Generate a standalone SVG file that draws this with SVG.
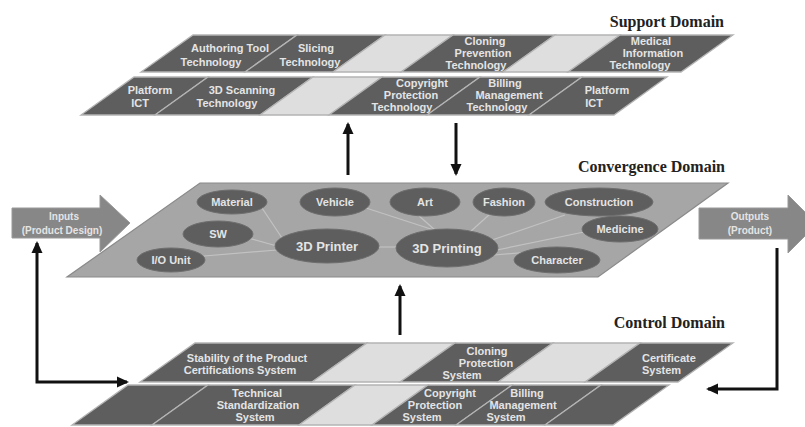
<svg xmlns="http://www.w3.org/2000/svg" width="805" height="427" viewBox="0 0 805 427">
<defs>
<style>
.dk{fill:#5e5e5e;stroke:#b4b4b4;stroke-width:1.3}
.lt{fill:#dedede;stroke:#b4b4b4;stroke-width:1.3}
.t{font-family:"Liberation Sans",Arial,sans-serif;font-size:11px;font-weight:bold;fill:#e4e4e4;text-anchor:middle}
.tb{font-size:13px}
.dom{font-family:"Liberation Serif","Times New Roman",serif;font-size:16px;font-weight:bold;fill:#222;text-anchor:end}
.el{fill:#5e5e5e;stroke:#6e6e6e;stroke-width:1}
.plane{fill:#a6a6a6;stroke:#8a8a8a;stroke-width:1.2}
.io{fill:#878787;stroke:#999;stroke-width:1}
.arr{fill:none;stroke:#111;stroke-width:3}
.lnk{fill:none;stroke:#c2c2c2;stroke-width:1.2}
</style>
<marker id="ah" viewBox="0 0 12 12" refX="10" refY="6" markerWidth="12" markerHeight="12" markerUnits="userSpaceOnUse" orient="auto-start-reverse">
<path d="M0,0.5 L12,6 L0,11.5 z" fill="#111"/>
</marker>
</defs>
<rect width="805" height="427" fill="#ffffff"/>

<!-- Domain labels -->
<text class="dom" x="724" y="27">Support Domain</text>
<text class="dom" x="725" y="172">Convergence Domain</text>
<text class="dom" x="725" y="328">Control Domain</text>

<!-- Support Domain -->
<g id="support-domain">
<g id="s-authoring"><polygon class="dk" points="193,35 297,35 245,72 141,72"/><text class="t" x="230" y="52">Authoring Tool</text><text class="t" x="211" y="66">Technology</text></g>
<g id="s-slicing"><polygon class="dk" points="297,35 385,35 333,72 245,72"/><text class="t" x="316" y="52">Slicing</text><text class="t" x="310" y="66">Technology</text></g>
<g id="s-blank1"><polygon class="lt" points="385,35 453,35 401,72 333,72"/></g>
<g id="s-cloning"><polygon class="dk" points="453,35 555,35 503,72 401,72"/><text class="t" x="485" y="45">Cloning</text><text class="t" x="483" y="57">Prevention</text><text class="t" x="476" y="69">Technology</text></g>
<g id="s-blank2"><polygon class="lt" points="555,35 620,35 568,72 503,72"/></g>
<g id="s-medical"><polygon class="dk" points="620,35 733,35 681,72 568,72"/><text class="t" x="651" y="45">Medical</text><text class="t" x="653" y="57">Information</text><text class="t" x="640" y="69">Technology</text></g>
<g id="s-platform1"><polygon class="dk" points="134,77 208,77 155,115 81,115"/><text class="t" x="150" y="94">Platform</text><text class="t" x="140" y="107">ICT</text></g>
<g id="s-scanning"><polygon class="dk" points="208,77 313,77 260,115 155,115"/><text class="t" x="242" y="94">3D Scanning</text><text class="t" x="227" y="107">Technology</text></g>
<g id="s-blank3"><polygon class="lt" points="313,77 382,77 329,115 260,115"/></g>
<g id="s-copyright"><polygon class="dk" points="382,77 480,77 427,115 329,115"/><text class="t" x="422" y="87">Copyright</text><text class="t" x="411" y="99">Protection</text><text class="t" x="402" y="111">Technology</text></g>
<g id="s-billing"><polygon class="dk" points="480,77 582,77 529,115 427,115"/><text class="t" x="505" y="87">Billing</text><text class="t" x="509" y="99">Management</text><text class="t" x="497" y="111">Technology</text></g>
<g id="s-platform2"><polygon class="dk" points="582,77 667,77 614,115 529,115"/><text class="t" x="607" y="94">Platform</text><text class="t" x="594" y="107">ICT</text></g>
</g>

<!-- Convergence Domain plane -->
<g id="convergence-plane"><polygon class="plane" points="200,183 728,183 598,277 67,277"/></g>

<!-- Connectors -->
<g id="connectors">
<line class="lnk" x1="262" y1="208" x2="282" y2="238"/>
<line class="lnk" x1="248" y1="238" x2="277" y2="246"/>
<line class="lnk" x1="204" y1="256" x2="277" y2="250"/>
<line class="lnk" x1="379" y1="247" x2="397" y2="247"/>
<line class="lnk" x1="366" y1="208" x2="440" y2="232"/>
<line class="lnk" x1="418" y1="215" x2="435" y2="230"/>
<line class="lnk" x1="490" y1="214" x2="470" y2="232"/>
<line class="lnk" x1="565" y1="215" x2="492" y2="240"/>
<line class="lnk" x1="584" y1="232" x2="497" y2="250"/>
<line class="lnk" x1="530" y1="252" x2="494" y2="255"/>
<line class="arr" x1="348" y1="175" x2="348" y2="124" marker-end="url(#ah)"/>
<line class="arr" x1="456" y1="123" x2="456" y2="174" marker-end="url(#ah)"/>
<line class="arr" x1="400" y1="335" x2="400" y2="286" marker-end="url(#ah)"/>
<path class="arr" d="M37,243 L37,382 L127,382" marker-start="url(#ah)" marker-end="url(#ah)"/>
<path class="arr" d="M777,248 L777,389 L708,389" marker-end="url(#ah)"/>
</g>

<!-- Convergence nodes -->
<g id="n-material"><ellipse class="el" cx="232" cy="202" rx="35" ry="12"/><text class="t" x="232" y="206">Material</text></g>
<g id="n-vehicle"><ellipse class="el" cx="335" cy="202" rx="35" ry="14"/><text class="t" x="335" y="206">Vehicle</text></g>
<g id="n-sw"><ellipse class="el" cx="218" cy="234" rx="35" ry="13"/><text class="t" x="218" y="238">SW</text></g>
<g id="n-io"><ellipse class="el" cx="171" cy="260" rx="34" ry="12"/><text class="t" x="171" y="264">I/O Unit</text></g>
<g id="n-printer"><ellipse class="el" cx="327" cy="246" rx="52" ry="17"/><text class="t tb" x="327" y="251">3D Printer</text></g>
<g id="n-art"><ellipse class="el" cx="425" cy="202" rx="35" ry="14"/><text class="t" x="425" y="206">Art</text></g>
<g id="n-fashion"><ellipse class="el" cx="504" cy="202" rx="31" ry="14"/><text class="t" x="504" y="206">Fashion</text></g>
<g id="n-construction"><ellipse class="el" cx="599" cy="202" rx="54" ry="14"/><text class="t" x="599" y="206">Construction</text></g>
<g id="n-medicine"><ellipse class="el" cx="620" cy="229" rx="38" ry="13"/><text class="t" x="620" y="233">Medicine</text></g>
<g id="n-printing"><ellipse class="el" cx="447" cy="248" rx="51" ry="19"/><text class="t tb" x="447" y="253">3D Printing</text></g>
<g id="n-character"><ellipse class="el" cx="557" cy="260" rx="43" ry="13"/><text class="t" x="557" y="264">Character</text></g>

<!-- Inputs / Outputs -->
<g id="inputs"><polygon class="io" points="12,208 100,208 100,195 130,223 100,252 100,238 12,238"/><text class="t" x="64" y="220" style="font-size:10px">Inputs</text><text class="t" x="62" y="234" style="font-size:10px">(Product Design)</text></g>
<g id="outputs"><polygon class="io" points="699,208 788,208 788,195 817,224 788,253 788,239 699,239"/><text class="t" x="750" y="220" style="font-size:10px">Outputs</text><text class="t" x="750" y="234" style="font-size:10px">(Product)</text></g>

<!-- Control Domain -->
<g id="control-domain">
<g id="c-stability"><polygon class="dk" points="195,343 367,343 312,382 140,382"/><text class="t" x="247" y="362">Stability of the Product</text><text class="t" x="240" y="374">Certifications System</text></g>
<g id="c-blank1"><polygon class="lt" points="367,343 455,343 400,382 312,382"/></g>
<g id="c-cloning"><polygon class="dk" points="455,343 553,343 498,382 400,382"/><text class="t" x="487" y="355">Cloning</text><text class="t" x="486" y="367">Protection</text><text class="t" x="462" y="379">System</text></g>
<g id="c-blank2"><polygon class="lt" points="553,343 640,343 585,382 498,382"/></g>
<g id="c-certificate"><polygon class="dk" points="640,343 733,343 678,382 585,382"/><text class="t" x="642" y="362" style="text-anchor:start">Certificate</text><text class="t" x="642" y="374" style="text-anchor:start">System</text></g>
<g id="c-empty1"><polygon class="dk" points="128,385 208,385 152,425 72,425"/></g>
<g id="c-technical"><polygon class="dk" points="208,385 355,385 299,425 152,425"/><text class="t" x="257" y="397">Technical</text><text class="t" x="258" y="409">Standardization</text><text class="t" x="255" y="421">System</text></g>
<g id="c-blank3"><polygon class="lt" points="355,385 428,385 372,425 299,425"/></g>
<g id="c-copyright"><polygon class="dk" points="428,385 512,385 456,425 372,425"/><text class="t" x="450" y="397">Copyright</text><text class="t" x="435" y="409">Protection</text><text class="t" x="422" y="421">System</text></g>
<g id="c-billing"><polygon class="dk" points="512,385 601,385 545,425 456,425"/><text class="t" x="527" y="397">Billing</text><text class="t" x="523" y="409">Management</text><text class="t" x="506" y="421">System</text></g>
<g id="c-empty2"><polygon class="dk" points="601,385 669,385 613,425 545,425"/></g>
</g>
</svg>
